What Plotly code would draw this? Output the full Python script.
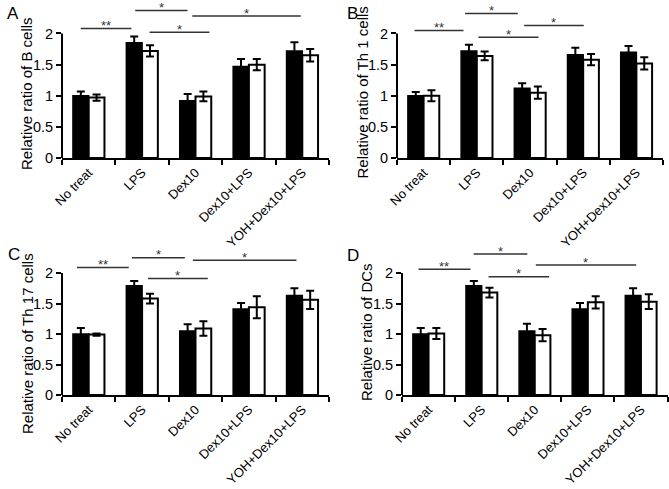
import plotly.graph_objects as go

W, H = 669, 489

categories = ["No treat", "LPS", "Dex10", "Dex10+LPS", "YOH+Dex10+LPS"]
y_ticks = [0, 0.5, 1, 1.5, 2]
y_ticktext = ["0", "0.5", "1", "1.5", "2"]

# Panel A - B cells
A_black = [1.00, 1.85, 0.92, 1.47, 1.72]
A_black_err = [0.07, 0.10, 0.11, 0.12, 0.14]
A_white = [0.97, 1.72, 0.99, 1.50, 1.65]
A_white_err = [0.05, 0.09, 0.08, 0.09, 0.10]
A_sig = [(-0.15, 0.80, 2.08, "**"), (0.87, 1.85, 2.37, "*"),
         (1.14, 2.26, 2.02, "*"), (1.94, 3.97, 2.28, "*")]

# Panel B - Th 1 cells
B_black = [1.00, 1.72, 1.12, 1.66, 1.70]
B_black_err = [0.06, 0.10, 0.08, 0.11, 0.10]
B_white = [1.00, 1.64, 1.05, 1.58, 1.52]
B_white_err = [0.09, 0.07, 0.10, 0.09, 0.10]
B_sig = [(-0.17, 0.75, 2.05, "**"), (0.78, 1.77, 2.32, "*"),
         (1.03, 2.16, 1.94, "*"), (1.89, 3.01, 2.13, "*")]

# Panel C - Th 17 cells
C_black = [1.00, 1.79, 1.05, 1.41, 1.63]
C_black_err = [0.10, 0.08, 0.11, 0.10, 0.12]
C_white = [0.99, 1.58, 1.09, 1.44, 1.56]
C_white_err = [0.02, 0.08, 0.12, 0.18, 0.15]
C_sig = [(-0.22, 0.75, 2.09, "**"), (0.81, 1.80, 2.25, "*"),
         (1.11, 2.23, 1.91, "*"), (1.95, 3.89, 2.21, "*")]

# Panel D - DCs
D_black = [1.00, 1.79, 1.05, 1.41, 1.63]
D_black_err = [0.10, 0.08, 0.12, 0.10, 0.12]
D_white = [1.01, 1.68, 0.98, 1.52, 1.53]
D_white_err = [0.09, 0.08, 0.10, 0.10, 0.12]
D_sig = [(-0.19, 0.79, 2.06, "**"), (0.85, 1.86, 2.31, "*"),
         (1.13, 2.27, 1.94, "*"), (2.02, 3.91, 2.13, "*")]

FONT = "Arial, Liberation Sans, sans-serif"
YMAX = 2.45

panels = [
    dict(letter="A", title="Relative ratio of B cells", black=A_black, berr=A_black_err,
         white=A_white, werr=A_white_err, sig=A_sig,
         px=(62, 329), py=(158, 62.25), title_pos=(27, 94), letter_pos=(13, 13)),
    dict(letter="B", title="Relative ratio of Th 1 cells", black=B_black, berr=B_black_err,
         white=B_white, werr=B_white_err, sig=B_sig,
         px=(397, 663), py=(158, 62.25), title_pos=(362, 92.5), letter_pos=(352, 13)),
    dict(letter="C", title="Relative ratio of Th 17 cells", black=C_black, berr=C_black_err,
         white=C_white, werr=C_white_err, sig=C_sig,
         px=(62, 329), py=(395, 61.0), title_pos=(27, 344), letter_pos=(14, 254)),
    dict(letter="D", title="Relative ratio of DCs", black=D_black, berr=D_black_err,
         white=D_white, werr=D_white_err, sig=D_sig,
         px=(402, 667.5), py=(395, 61.0), title_pos=(366, 332), letter_pos=(353, 255)),
]

fig = go.Figure()
shapes = []
annotations = []

for i, p in enumerate(panels):
    n = "" if i == 0 else str(i + 1)
    xa, ya = "x" + n, "y" + n
    x0p, x1p = p["px"]
    y0px, ppu = p["py"]
    ytop_px = y0px - YMAX * ppu
    xdom = [x0p / W, x1p / W]
    ydom = [(H - y0px) / H, (H - ytop_px) / H]

    fig.add_trace(go.Bar(
        x=categories, y=p["black"], xaxis=xa, yaxis=ya,
        marker=dict(color="black", line=dict(color="black", width=1.5)),
        error_y=dict(type="data", array=p["berr"], color="black", thickness=2, width=4),
        showlegend=False, cliponaxis=False))
    fig.add_trace(go.Bar(
        x=categories, y=p["white"], xaxis=xa, yaxis=ya,
        marker=dict(color="white", line=dict(color="black", width=2)),
        error_y=dict(type="data", array=p["werr"], color="black", thickness=2, width=4),
        showlegend=False, cliponaxis=False))

    xkey = "xaxis" + n
    ykey = "yaxis" + n
    fig.update_layout(**{
        xkey: dict(domain=xdom, anchor=ya, type="category", range=[-0.5, 4.5],
                   automargin=False,
                   showline=True, linecolor="black", linewidth=2,
                   ticks="outside", tickson="boundaries", ticklen=5, tickwidth=2,
                   tickcolor="black", tickangle=-45, showgrid=False,
                   tickfont=dict(family=FONT, size=13, color="black")),
        ykey: dict(domain=ydom, anchor=xa, range=[0, YMAX], showline=False,
                   automargin=False,
                   tickvals=y_ticks, ticktext=y_ticktext, ticks="outside",
                   ticklen=5, tickwidth=2, tickcolor="black", showgrid=False,
                   zeroline=False,
                   tickfont=dict(family=FONT, size=14.5, color="black")),
    })

    # y axis line from 0 to 2
    shapes.append(dict(type="line", xref="paper", yref=ya,
                       x0=xdom[0], x1=xdom[0], y0=0, y1=y_ticks[-1],
                       line=dict(color="black", width=2)))

    for (sx0, sx1, sy, lab) in p["sig"]:
        shapes.append(dict(type="line", xref=xa, yref=ya, x0=sx0, x1=sx1, y0=sy, y1=sy,
                           line=dict(color="#333333", width=1.5)))
        annotations.append(dict(xref=xa, yref=ya, x=(sx0 + sx1) / 2, y=sy, text=lab,
                                showarrow=False, yanchor="middle", yshift=3,
                                font=dict(family=FONT, size=13, color="#333333")))

    tx, ty = p["title_pos"]
    annotations.append(dict(xref="paper", yref="paper", x=tx / W, y=(H - ty) / H,
                            text=p["title"], textangle=-90, showarrow=False,
                            xanchor="center", yanchor="middle",
                            font=dict(family=FONT, size=15, color="black")))
    lx, ly = p["letter_pos"]
    annotations.append(dict(xref="paper", yref="paper", x=lx / W, y=(H - ly) / H,
                            text=p["letter"], showarrow=False,
                            xanchor="center", yanchor="middle",
                            font=dict(family=FONT, size=17, color="black")))

fig.update_layout(
    width=W, height=H, margin=dict(l=0, r=0, t=0, b=0),
    paper_bgcolor="white", plot_bgcolor="white",
    barmode="group", bargap=0.41, bargroupgap=0,
    shapes=shapes, annotations=annotations,
    font=dict(family=FONT, color="black"),
)

fig.write_html("out.html", config={"displayModeBar": False},
               post_script="document.body.style.margin='0px';")
